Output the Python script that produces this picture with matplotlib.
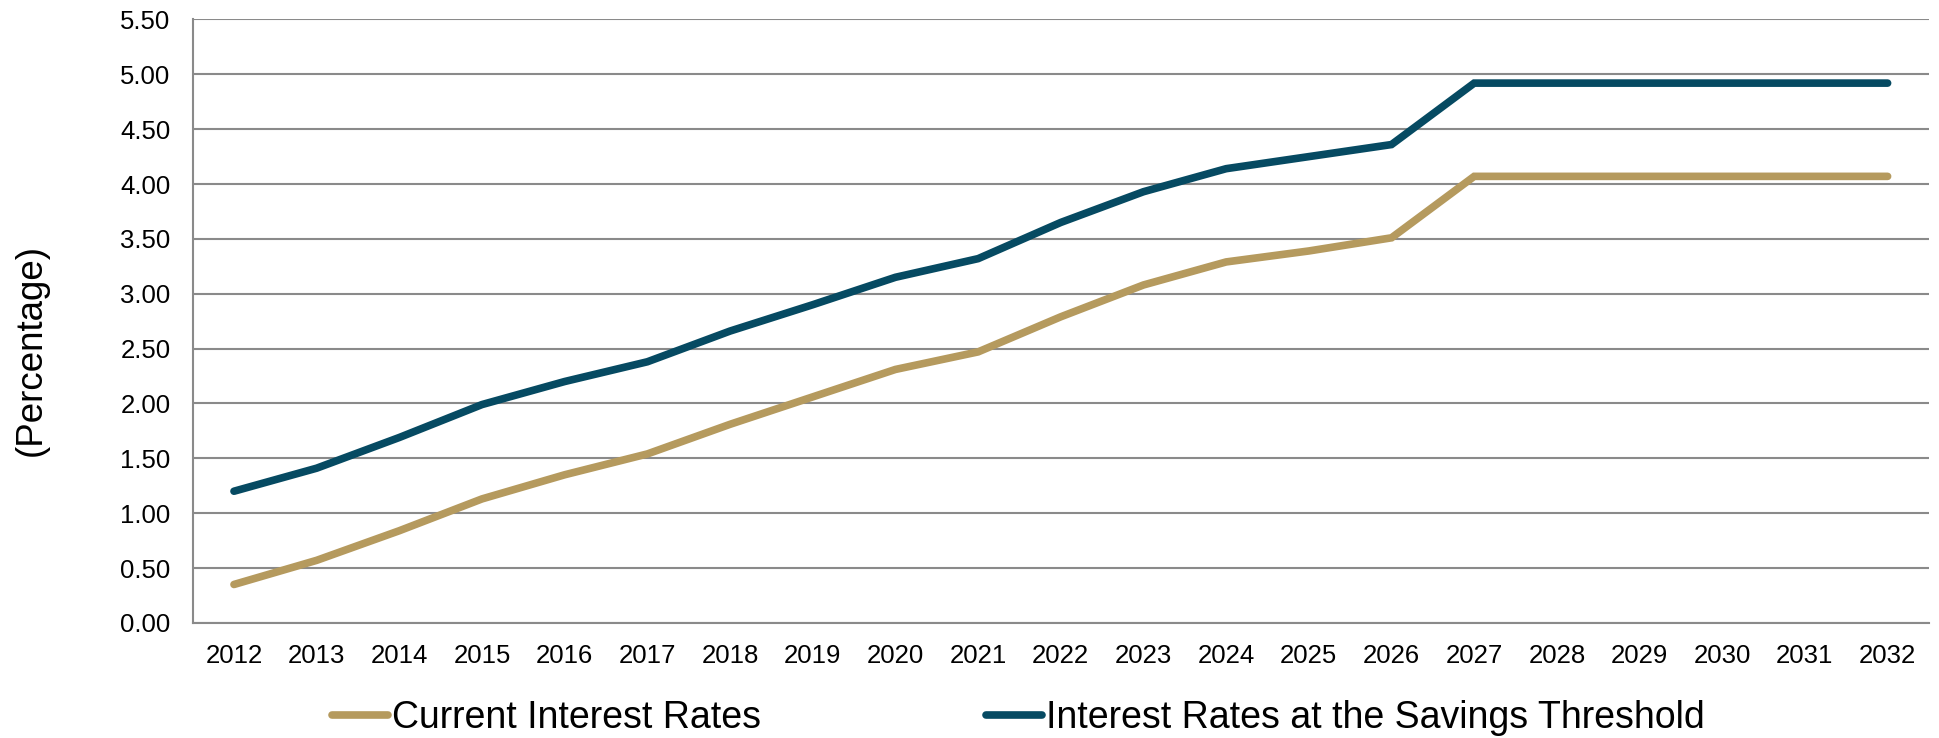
import numpy as np
import matplotlib
matplotlib.use("Agg")
from matplotlib import pyplot as plt

plt.rcParams["font.family"] = ["Liberation Sans", "DejaVu Sans"]

# data
years = [str(y) for y in range(2012, 2033)]
current_rates = [0.35, 0.57, 0.84, 1.13, 1.35, 1.54, 1.81, 2.06, 2.31, 2.47, 2.79,
                 3.08, 3.29, 3.39, 3.51, 4.07, 4.07, 4.07, 4.07, 4.07, 4.07]
threshold_rates = [1.20, 1.41, 1.69, 1.99, 2.20, 2.38, 2.66, 2.90, 3.15, 3.32, 3.65,
                   3.93, 4.14, 4.25, 4.36, 4.92, 4.92, 4.92, 4.92, 4.92, 4.92]
y_ticks = np.arange(0, 5.51, 0.5)

GOLD = "#b59a5e"
BLUE = "#064a62"
GRID = "#8a8a8a"

fig = plt.figure(figsize=(19.4, 7.38), dpi=100)
ax = fig.add_axes([0.0993, 0.156, 0.895, 0.8176])

x = np.arange(len(years))
ax.plot(x, current_rates, color=GOLD, lw=5.5, solid_capstyle="round",
        solid_joinstyle="miter", label="Current Interest Rates")
ax.plot(x, threshold_rates, color=BLUE, lw=5.5, solid_capstyle="round",
        solid_joinstyle="miter", label="Interest Rates at the Savings Threshold")

ax.set_xlim(-0.5, len(years) - 0.5)
ax.set_ylim(0, 5.5)
ax.set_yticks(y_ticks)
ax.set_yticklabels([f"{v:.2f}" for v in y_ticks])
ax.set_xticks(x)
ax.set_xticklabels(years)
ax.tick_params(axis="both", length=0, labelsize=18.5, colors="black")
ax.tick_params(axis="x", pad=15)
ax.tick_params(axis="y", pad=16)

ax.yaxis.grid(True, color=GRID, lw=1.5)
ax.set_axisbelow(True)
for side in ["top", "right"]:
    ax.spines[side].set_visible(False)
for side in ["left", "bottom"]:
    ax.spines[side].set_color(GRID)
    ax.spines[side].set_linewidth(1.5)

fig.text(0.016, 0.526, "(Percentage)", rotation=90, ha="center", va="center",
         fontsize=26.5)

fig.legend(loc="center", bbox_to_anchor=(0.525, 0.027), ncol=2, frameon=False,
           fontsize=27, handlelength=1.5, handletextpad=0.1, columnspacing=6.0,
           borderpad=0)

fig.savefig("out.png", dpi=100)
